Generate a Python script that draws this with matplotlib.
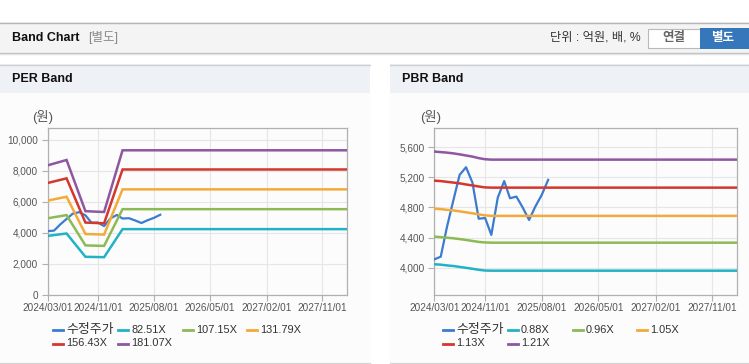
import matplotlib
matplotlib.use("Agg")
import matplotlib.pyplot as plt
import matplotlib.dates as mdates
from matplotlib.patches import Rectangle
from matplotlib.lines import Line2D
from matplotlib.ticker import FuncFormatter
import pandas as pd

plt.rcParams['font.family'] = ['Liberation Sans', 'Noto Sans CJK KR', 'DejaVu Sans']

W, H = 749, 364

# ---- data ----
price_label = '수정주가'
price_dates = pd.to_datetime([
    '2024-03-01', '2024-04-01', '2024-05-01', '2024-06-01', '2024-07-01',
    '2024-08-01', '2024-09-01', '2024-10-01', '2024-11-01', '2024-12-01',
    '2025-01-01', '2025-02-01', '2025-03-01', '2025-04-01', '2025-05-01',
    '2025-06-01', '2025-07-01', '2025-08-01', '2025-09-01'])
price = [4110, 4146, 4540, 4895, 5232, 5334, 5130, 4650, 4660, 4435,
         4930, 5150, 4922, 4944, 4800, 4634, 4811, 4966, 5166]

per_dates = pd.to_datetime(['2024-03-01', '2024-06-01', '2024-09-01',
                            '2024-12-01', '2025-03-01', '2028-03-01'])
per_labels = ['82.51X', '107.15X', '131.79X', '156.43X', '181.07X']
per_bands = [
    [3804, 3960, 2459, 2434, 4240, 4240],
    [4940, 5143, 3193, 3161, 5525, 5525],
    [6075, 6326, 3927, 3888, 6800, 6800],
    [7211, 7509, 4662, 4615, 8080, 8080],
    [8347, 8691, 5396, 5342, 9315, 9315],
]

pbr_dates = pd.to_datetime(['2024-03-01', '2024-04-01', '2024-05-01', '2024-06-01',
                            '2024-07-01', '2024-08-01', '2024-09-01', '2024-10-01',
                            '2024-11-01', '2024-12-01', '2028-03-01'])
pbr_labels = ['0.88X', '0.96X', '1.05X', '1.13X', '1.21X']
pbr_bands = [
    [4045, 4040, 4030, 4022, 4010, 3998, 3985, 3972, 3962, 3960, 3960],
    [4412, 4405, 4398, 4390, 4380, 4368, 4355, 4342, 4335, 4332, 4332],
    [4784, 4778, 4768, 4760, 4748, 4735, 4722, 4708, 4695, 4688, 4688],
    [5156, 5150, 5140, 5130, 5120, 5105, 5092, 5078, 5066, 5063, 5063],
    [5542, 5535, 5528, 5518, 5505, 5490, 5475, 5455, 5440, 5435, 5435],
]

price_color = '#3b7bd0'
band_colors = ['#22b2c6', '#8cba55', '#f4aa3a', '#d3372e', '#8e57a0']

x_ticks = pd.to_datetime(['2024-03-01', '2024-11-01', '2025-08-01',
                          '2026-05-01', '2027-02-01', '2027-11-01'])
x_range = pd.to_datetime(['2024-03-01', '2028-03-01'])


def fx(x):
    return x / W


def fy(y):
    return 1 - y / H


fig = plt.figure(figsize=(W / 100, H / 100), dpi=100)
fig.patch.set_facecolor('white')


def rect(x0, y0, x1, y1, color, z=0, **kw):
    fig.add_artist(Rectangle((fx(x0), fy(y1)), fx(x1 - x0), (y1 - y0) / H,
                             transform=fig.transFigure, facecolor=color,
                             edgecolor='none', zorder=z, **kw))


def hline(x0, x1, y, color, lw=1.0, z=1):
    fig.add_artist(Line2D([fx(x0), fx(x1)], [fy(y), fy(y)], transform=fig.transFigure,
                          color=color, lw=lw, zorder=z))


# top bar
rect(0, 22, W, 53, '#f4f4f4')
hline(0, W, 22.5, '#b4b4b4', 1.0)
hline(0, W, 53, '#bdbdbd', 1.0)
hline(0, W, 54.2, '#e2e2e2', 1.0)
fig.text(fx(12), fy(38), 'Band Chart', fontsize=9, fontweight='bold', color='#111',
         va='center', ha='left')
fig.text(fx(88), fy(38), '[별도]', fontsize=9, color='#8a8a8a', va='center', ha='left')
fig.text(fx(641), fy(38), '단위 : 억원, 배, %', fontsize=8.8, color='#333',
         va='center', ha='right')
# buttons
fig.add_artist(Rectangle((fx(648), fy(48)), fx(52), 19 / H, transform=fig.transFigure,
                         facecolor='white', edgecolor='#b9b9b9', lw=0.8, zorder=2))
fig.text(fx(674), fy(38.5), '연결', fontsize=9, fontweight='bold', color='#666',
         va='center', ha='center', zorder=3)
rect(700, 28.5, W, 48.5, '#3677bb', z=2)
fig.text(fx(723), fy(38.5), '별도', fontsize=9, fontweight='bold', color='white',
         va='center', ha='center', zorder=3)

# panels
for (px0, px1, title) in [(0, 370, 'PER Band'), (390, W, 'PBR Band')]:
    rect(px0, 64, px1, 93, '#eef1f6')
    rect(px0, 93, px1, 362, '#fcfcfc')
    hline(px0, px1, 64.5, '#cfcfcf', 1.0)
    hline(px0, px1, 362.5, '#d6d6d6', 1.0)
    fig.text(fx(px0 + 12), fy(79), title, fontsize=9, fontweight='bold', color='#111',
             va='center', ha='left')


def draw(ax, bands, dates, ylim, yticks, labels, unit_x, legend_x):
    ax.set_facecolor('#fcfcfc')
    ax.plot(price_dates, price, color=price_color, lw=1.6, zorder=3,
            solid_joinstyle='round')
    for vals, c in zip(bands, band_colors):
        ax.plot(dates, vals, color=c, lw=1.8, zorder=4, solid_joinstyle='miter')
    ax.set_xlim(x_range[0], x_range[1])
    ax.set_ylim(*ylim)
    ax.set_xticks(x_ticks)
    ax.xaxis.set_major_formatter(mdates.DateFormatter('%Y/%m/%d'))
    ax.set_yticks(yticks)
    ax.yaxis.set_major_formatter(FuncFormatter(lambda v, p: f'{int(v):,}'))
    ax.grid(True, color='#e6e6e6', lw=0.8, zorder=0)
    ax.set_axisbelow(True)
    for s in ax.spines.values():
        s.set_color('#b0b0b0')
        s.set_linewidth(0.9)
    ax.tick_params(axis='both', labelsize=7.2, colors='#555555', length=4, width=0.8,
                   pad=2, color='#b0b0b0')
    ax.tick_params(axis='y', pad=3)
    fig.text(fx(unit_x), fy(117), '(원)', fontsize=9.5, color='#555', va='center',
             ha='left')
    # legend
    names = [price_label] + labels
    colors = [price_color] + band_colors
    for i, (n, c) in enumerate(zip(names, colors)):
        row, col = divmod(i, 4)
        x0 = legend_x[col]
        y0 = 330 + row * 13.5
        hline(x0, x0 + 10, y0, c, 2.0, z=3)
        size = 9.3 if i == 0 else 7.9
        fig.text(fx(x0 + 13), fy(y0), n, fontsize=size, color='#333', va='center',
                 ha='left')


ax1 = fig.add_axes([fx(47.7), fy(295), fx(347.3 - 47.7), (295 - 128) / H])
draw(ax1, per_bands, per_dates, (0, 10750), [0, 2000, 4000, 6000, 8000, 10000],
     per_labels, 32, [53, 118, 183, 247])

ax2 = fig.add_axes([fx(434.3), fy(295), fx(737.3 - 434.3), (295 - 128) / H])
draw(ax2, pbr_bands, pbr_dates, (3637, 5855), [4000, 4400, 4800, 5200, 5600],
     pbr_labels, 420, [443, 507.7, 572.7, 637])

fig.savefig('out.png', dpi=100, facecolor='white')
